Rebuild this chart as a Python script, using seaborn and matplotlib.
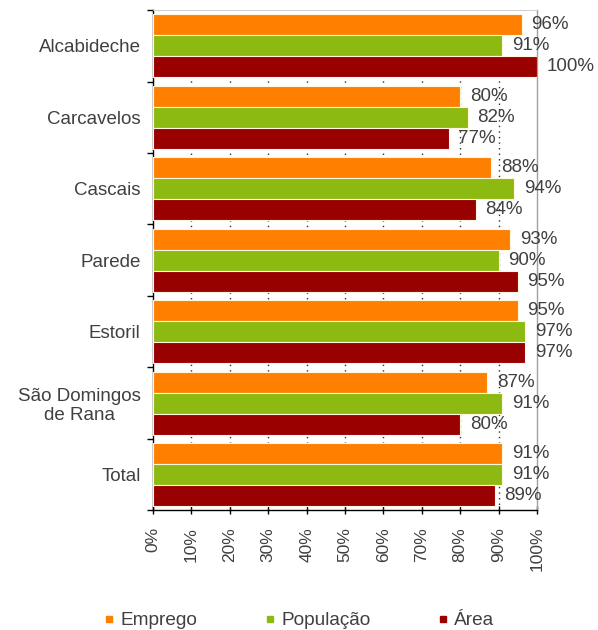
import matplotlib
matplotlib.use("Agg")
import matplotlib.pyplot as plt
from matplotlib.lines import Line2D
from matplotlib.ticker import FixedLocator, FuncFormatter
import numpy as np
import pandas as pd
import seaborn as sns

categories = ["Alcabideche", "Carcavelos", "Cascais", "Parede", "Estoril",
              "São Domingos\nde Rana", "Total"]
series = ["Emprego", "População", "Área"]
emprego = [96, 80, 88, 93, 95, 87, 91]
populacao = [91, 82, 94, 90, 97, 91, 91]
area = [100, 77, 84, 95, 97, 80, 89]
x_ticks = [0, 10, 20, 30, 40, 50, 60, 70, 80, 90, 100]

colors = ["#FF7F00", "#8CBA10", "#990000"]
text_color = "#404040"

df = pd.DataFrame({
    "Freguesia": categories * 3,
    "Série": [series[0]] * 7 + [series[1]] * 7 + [series[2]] * 7,
    "Valor": emprego + populacao + area,
})

sns.set_theme(style="white")
plt.rcParams["font.family"] = ["Liberation Sans", "DejaVu Sans"]

fig = plt.figure(figsize=(5.98, 6.30), dpi=100)
ax = fig.add_axes([0.256, 0.19, 0.642, 0.794])

sns.barplot(data=df, y="Freguesia", x="Valor", hue="Série", orient="h",
            palette=colors, saturation=1, width=0.88, ax=ax, legend=False,
            edgecolor="#FFF8E0", linewidth=0.8, zorder=3)

# dotted vertical gridlines behind the bars
for t in x_ticks[1:-1]:
    ax.axvline(t, color="#303030", linestyle=(0, (1, 3)), linewidth=1.0, zorder=1)

ax.set_xlim(0, 100)
ax.set_ylim(len(categories) - 0.5, -0.5)
ax.set_xlabel("")
ax.set_ylabel("")

ax.xaxis.set_major_locator(FixedLocator(x_ticks))
ax.xaxis.set_major_formatter(FuncFormatter(lambda v, p: f"{int(v)}%"))
ax.tick_params(axis="x", labelrotation=90, labelsize=12.5, colors=text_color,
               direction="inout", length=6, width=1, pad=9, bottom=True)
ax.tick_params(axis="x", color="black")

# category labels on major ticks; boundary tick marks on minor ticks
ax.yaxis.set_minor_locator(FixedLocator(np.arange(-0.5, len(categories), 1.0)))
ax.tick_params(axis="y", which="major", length=0, labelsize=13.5, pad=9,
               labelcolor=text_color)
ax.tick_params(axis="y", which="minor", length=4, width=1, left=True,
               color="black")
for lbl in ax.get_yticklabels():
    lbl.set_linespacing(1.15)
    lbl.set_multialignment("center")

for s in ["left", "bottom"]:
    ax.spines[s].set_color("black")
    ax.spines[s].set_linewidth(1.0)
ax.spines["right"].set_color("#A0A0A0")
ax.spines["right"].set_linewidth(1.0)
ax.spines["top"].set_color("#C8C8C8")
ax.spines["top"].set_linewidth(0.6)

# value labels to the right of each bar
for container, vals in zip(ax.containers, [emprego, populacao, area]):
    ax.bar_label(container, labels=[f"{v}%" for v in vals], padding=7,
                 fontsize=13.5, color=text_color, clip_on=False)

handles = [Line2D([0], [0], marker="s", linestyle="", markersize=4.5,
                  markerfacecolor=c, markeredgecolor=c) for c in colors]
fig.legend(handles, series, loc="lower center", bbox_to_anchor=(0.5, -0.026),
           ncol=3, frameon=False, fontsize=13.7, handlelength=0.6,
           handletextpad=0.3, columnspacing=3.5, labelcolor=text_color)

fig.savefig("out.png", dpi=100)
